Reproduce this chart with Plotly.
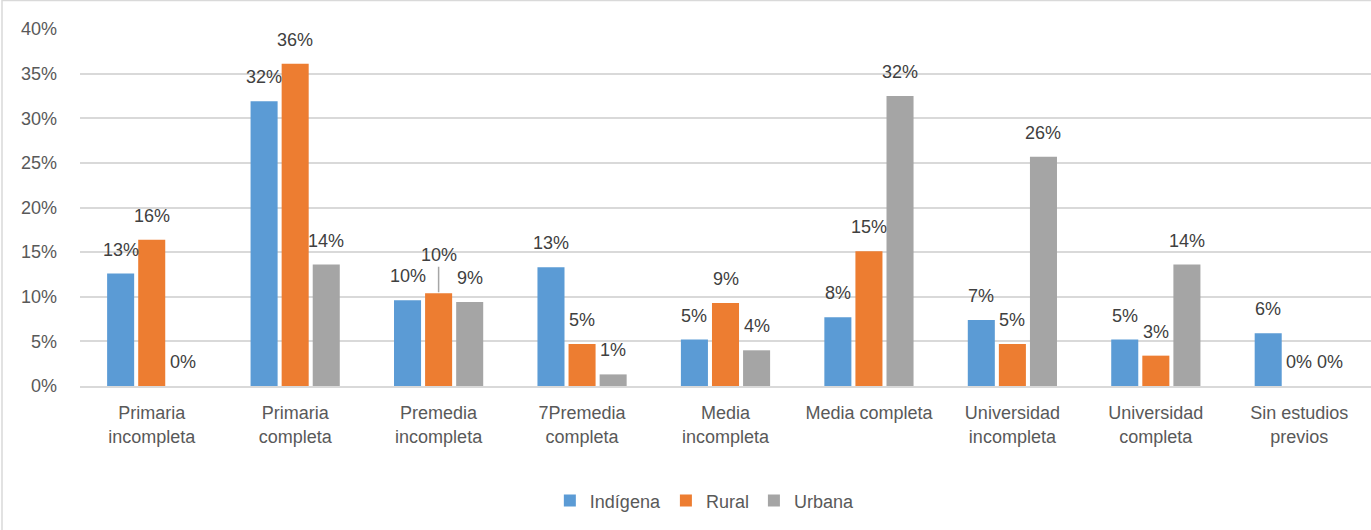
import plotly.graph_objects as go

categories = ["Primaria<br>incompleta", "Primaria<br>completa", "Premedia<br>incompleta",
              "7Premedia<br>completa", "Media<br>incompleta", "Media completa",
              "Universidad<br>incompleta", "Universidad<br>completa", "Sin estudios<br>previos"]
indigena = [0.126, 0.319, 0.096, 0.133, 0.052, 0.077, 0.074, 0.052, 0.059]
rural = [0.164, 0.361, 0.104, 0.047, 0.093, 0.151, 0.047, 0.034, 0.0]
urbana = [0.0, 0.136, 0.094, 0.013, 0.040, 0.325, 0.257, 0.136, 0.0]

series = [("Indígena", indigena, "#5b9bd5"), ("Rural", rural, "#ed7d31"), ("Urbana", urbana, "#a5a5a5")]

W, H = 1371, 530
ML, MR, MT, MB = 80, 0, 29, 144
plot_w = W - ML - MR
plot_h = H - MT - MB
BARGAP = 0.35
slot = plot_w / len(categories) * (1 - BARGAP) / 3

label_font = dict(family="Liberation Sans, Arial", size=18, color="#404040")

fig = go.Figure()
for i, (name, vals, color) in enumerate(series):
    fig.add_trace(go.Bar(
        x=categories, y=vals, name=name, marker=dict(color=color, line=dict(width=0)),
    ))
    for j, (cat, v) in enumerate(zip(categories, vals)):
        txt = f"{round(v*100):.0f}%"
        if name == "Rural" and j == 2:
            fig.add_annotation(x=cat, y=v, text=txt, showarrow=True, arrowhead=0,
                               arrowwidth=1.5, arrowcolor="#a6a6a6", ax=0, ay=-38,
                               standoff=1, font=label_font)
        else:
            fig.add_annotation(x=cat, y=v, text=txt, showarrow=False, yanchor="bottom",
                               xshift=(i - 1) * slot, yshift=12, font=label_font)

# outer border (left and top visible)
fig.add_shape(type="rect", xref="paper", yref="paper",
              x0=-(ML - 2) / plot_w, x1=1.05, y0=-0.6, y1=1 + (MT - 0.5) / plot_h,
              line=dict(color="#d9d9d9", width=1.5), layer="below")

fig.update_layout(
    width=W, height=H,
    margin=dict(l=ML, r=MR, t=MT, b=MB),
    barmode="group", bargap=BARGAP, bargroupgap=0.13,
    plot_bgcolor="white", paper_bgcolor="white",
    font=dict(family="Liberation Sans, Arial", size=18, color="#595959"),
    showlegend=True,
    legend=dict(orientation="h", x=0.484, xanchor="center", y=-0.27, yanchor="top",
                font=dict(size=18, color="#595959"), traceorder="normal"),
    xaxis=dict(showline=True, linecolor="#d9d9d9", linewidth=1.5, ticks="",
               ticklabelstandoff=10, tickfont=dict(size=18, color="#595959")),
    yaxis=dict(range=[0, 0.4], dtick=0.05, tickformat=".0%", showgrid=True,
               gridcolor="#d9d9d9", gridwidth=1.5, zeroline=False,
               ticklabelstandoff=22, tickfont=dict(size=18, color="#595959")),
)

fig.write_html("out.html", config={"displayModeBar": False},
               post_script="document.body.style.margin='0';document.body.style.overflow='hidden';")
